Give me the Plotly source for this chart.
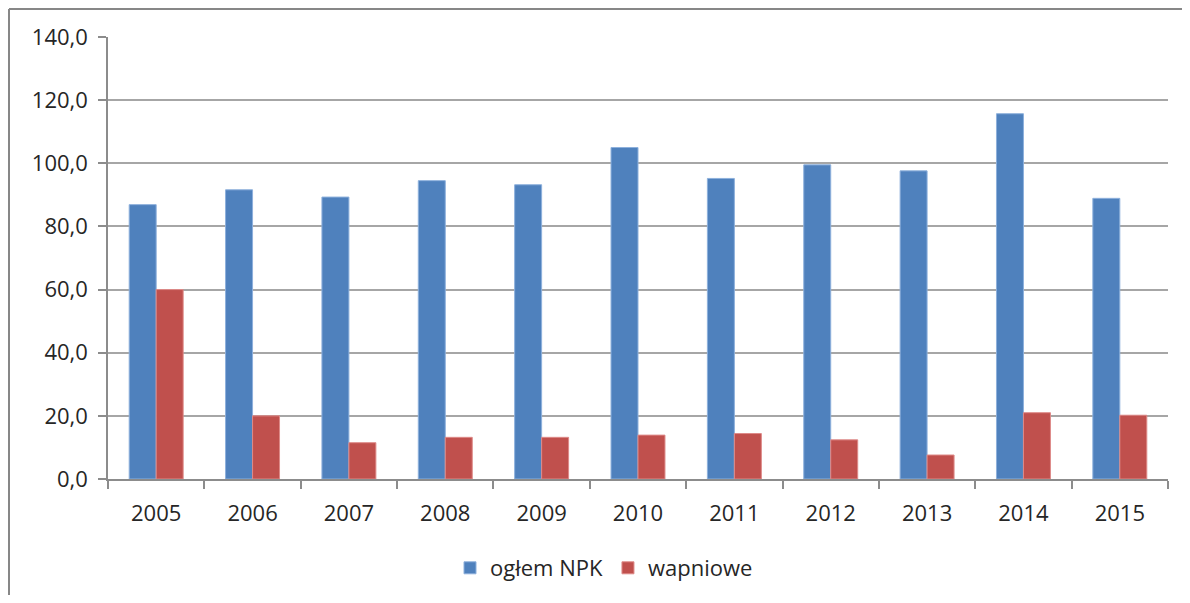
import plotly.graph_objects as go

years = ["2005", "2006", "2007", "2008", "2009", "2010", "2011", "2012", "2013", "2014", "2015"]
npk = [86.9, 91.6, 89.3, 94.5, 93.2, 105.0, 95.2, 99.5, 97.6, 115.7, 88.9]
wapniowe = [60.0, 20.0, 11.5, 13.2, 13.2, 13.9, 14.4, 12.4, 7.6, 21.0, 20.2]
y_ticks = [0, 20, 40, 60, 80, 100, 120, 140]

# page body has an 8px default margin; figure placed at (8, 8)
OFF = 8
W, H = 1190 - 2 * OFF, 603 - 2 * OFF
L, T = 108 - OFF, 37 - OFF
R = W + OFF - 1168
B = H + OFF - 479
pw, ph = W - L - R, H - T - B

font = dict(family="Open Sans, Lato, sans-serif", size=22, color="#262626")

fig = go.Figure()
fig.add_trace(go.Bar(name="ogłem NPK", x=years, y=npk,
                     marker=dict(color="#4F81BD", line=dict(color="#8DB0DC", width=1))))
fig.add_trace(go.Bar(name="wapniowe", x=years, y=wapniowe,
                     marker=dict(color="#C0504D", line=dict(color="#DE8A88", width=1))))

def px_x(x):  # page pixel -> paper
    return (x - OFF - L) / pw

def px_y(y):
    return (H + OFF - B - y) / ph

border = dict(color="#878787", width=2)
fig.add_shape(type="line", xref="paper", yref="paper",
              x0=px_x(9), x1=px_x(1195), y0=px_y(9), y1=px_y(9), line=border)
fig.add_shape(type="line", xref="paper", yref="paper",
              x0=px_x(9), x1=px_x(9), y0=px_y(9), y1=px_y(610), line=border)

fig.update_layout(
    width=W, height=H,
    margin=dict(l=L, r=R, t=T, b=B, autoexpand=False),
    paper_bgcolor="white", plot_bgcolor="white",
    barmode="group", bargap=0.44, bargroupgap=0,
    separators=", ",
    font=font,
    showlegend=True,
    legend=dict(orientation="h", x=px_x(604), xanchor="center", y=px_y(568), yanchor="middle",
                font=dict(family=font["family"], size=22, color="#262626"),
                itemwidth=30, traceorder="normal"),
    xaxis=dict(type="category", showline=True, linecolor="#8c8c8c", linewidth=1.5,
               ticks="outside", tickson="boundaries", ticklen=8, tickcolor="#8c8c8c",
               tickwidth=1.5, showgrid=False, tickfont=font, ticklabelstandoff=14,
               automargin=False),
    yaxis=dict(range=[0, 140], tickvals=y_ticks, tickformat=".1f", showline=True,
               linecolor="#8c8c8c", linewidth=1.5, ticks="outside", ticklen=8,
               tickcolor="#8c8c8c", tickwidth=1.5, showgrid=True, gridcolor="#a6a6a6",
               gridwidth=1.5, tickfont=font, zeroline=False, ticklabelstandoff=6,
               automargin=False),
)

fig.write_html("out.html")
